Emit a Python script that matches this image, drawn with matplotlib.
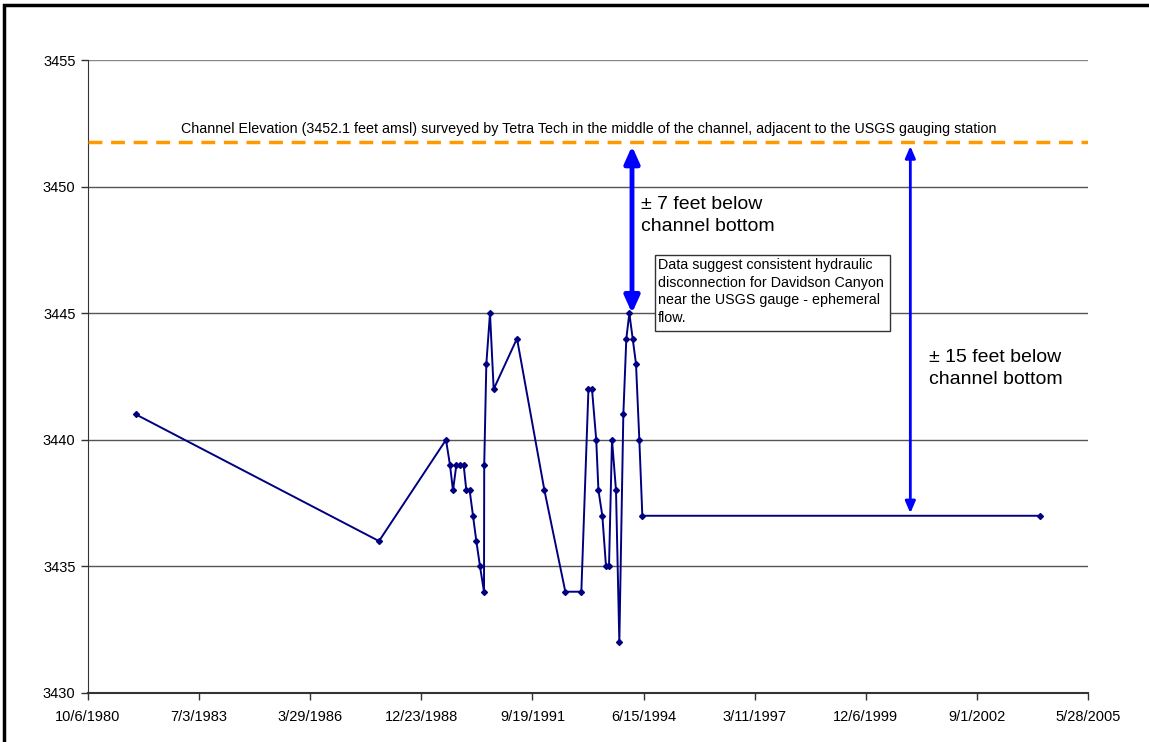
import matplotlib
matplotlib.use("Agg")
import matplotlib.pyplot as plt
from matplotlib.patches import Rectangle
import pandas as pd

dates = ["1981-12-12", "1987-12-08", "1989-08-02", "1989-09-07", "1989-10-04",
         "1989-11-03", "1989-12-06", "1990-01-08", "1990-02-01", "1990-03-03",
         "1990-04-02", "1990-05-02", "1990-06-04", "1990-07-10", "1990-07-12",
         "1990-07-31", "1990-09-02", "1990-10-05", "1991-05-03", "1992-01-05",
         "1992-07-11", "1992-12-02", "1993-02-04", "1993-03-08", "1993-04-15",
         "1993-05-05", "1993-06-09", "1993-07-12", "1993-08-08", "1993-09-04",
         "1993-10-10", "1993-11-09", "1993-12-15", "1994-01-11", "1994-02-07",
         "1994-03-09", "1994-04-08", "1994-05-08", "1994-06-04", "2004-03-22"]
elev = [3441, 3436, 3440, 3439, 3438, 3439, 3439, 3439, 3438, 3438,
        3437, 3436, 3435, 3434, 3439, 3443, 3445, 3442, 3444, 3438,
        3434, 3434, 3442, 3442, 3440, 3438, 3437, 3435, 3435, 3440,
        3438, 3432, 3441, 3444, 3445, 3444, 3443, 3440, 3437, 3437]

channel_elev = 3451.75
tick_dates = ["1980-10-06", "1983-07-03", "1986-03-29", "1988-12-23", "1991-09-19",
              "1994-06-15", "1997-03-11", "1999-12-06", "2002-09-01", "2005-05-28"]
tick_labels = ["10/6/1980", "7/3/1983", "3/29/1986", "12/23/1988", "9/19/1991",
               "6/15/1994", "3/11/1997", "12/6/1999", "9/1/2002", "5/28/2005"]
yticks = [3430, 3435, 3440, 3445, 3450, 3455]

arrow1_date = "1994-03-03"
arrow1_y = (3451.6, 3445.0)
arrow2_date = "2001-01-10"
arrow2_y = (3451.6, 3437.1)

FONT = "Liberation Sans"
W, H = 1149, 742
fig = plt.figure(figsize=(W / 100, H / 100), dpi=100)
ax = fig.add_axes([88 / W, 1 - 693 / H, 1000 / W, 633 / H])

x = pd.to_datetime(dates)
ax.plot(x, elev, color="#000080", lw=1.4, marker="D", ms=3, zorder=4)

ax.axhline(channel_elev, color="#FF9900", lw=2.5, ls=(0, (4, 2.5)), zorder=3)

td = pd.to_datetime(tick_dates)
ax.set_xlim(td[0], td[-1])
ax.set_ylim(3430, 3455)
ax.set_xticks(td)
ax.set_xticklabels(tick_labels, fontsize=10.5, family=FONT)
ax.set_yticks(yticks)
ax.set_yticklabels([str(v) for v in yticks], fontsize=10.5, family=FONT)
ax.tick_params(axis="both", direction="out", length=5, width=1, color="#333333", pad=4)
ax.tick_params(axis="x", pad=7)

for v in yticks[1:]:
    ax.axhline(v, color="#555555" if v != 3455 else "#888888", lw=1, zorder=1)

ax.spines["top"].set_visible(False)
ax.spines["right"].set_visible(False)
ax.spines["left"].set_color("#333333")
ax.spines["bottom"].set_color("#333333")
ax.spines["bottom"].set_linewidth(1.5)

a1 = pd.Timestamp(arrow1_date)
ax.annotate("", xy=(a1, arrow1_y[1]), xytext=(a1, arrow1_y[0]),
            arrowprops=dict(arrowstyle="<|-|>,head_length=1.0,head_width=0.45",
                            color="#0000FF", lw=3.5, shrinkA=0, shrinkB=0), zorder=5)
a2 = pd.Timestamp(arrow2_date)
ax.annotate("", xy=(a2, arrow2_y[1]), xytext=(a2, arrow2_y[0]),
            arrowprops=dict(arrowstyle="<|-|>,head_length=0.7,head_width=0.3",
                            color="#0000FF", lw=2, shrinkA=0, shrinkB=0), zorder=5)

fig.text(589 / W, 1 - 129 / H,
         "Channel Elevation (3452.1 feet amsl) surveyed by Tetra Tech in the middle of the channel, adjacent to the USGS gauging station",
         ha="center", va="center", fontsize=10.3, family=FONT)
fig.text(641 / W, 1 - 196 / H, "\u00b1 7 feet below\nchannel bottom",
         ha="left", va="top", fontsize=14, family=FONT, linespacing=1.4)
fig.text(929 / W, 1 - 349 / H, "\u00b1 15 feet below\nchannel bottom",
         ha="left", va="top", fontsize=14, family=FONT, linespacing=1.4)
fig.add_artist(Rectangle((655 / W, 1 - 331 / H), 235 / W, 76 / H, transform=fig.transFigure,
                         facecolor="white", edgecolor="#333333", lw=1, zorder=2))
fig.text(658 / W, 1 - 258 / H,
         "Data suggest consistent hydraulic\ndisconnection for Davidson Canyon\nnear the USGS gauge - ephemeral\nflow.",
         ha="left", va="top", fontsize=10.3, family=FONT, linespacing=1.33, zorder=3)

fig.add_artist(Rectangle((4 / W, -0.05), 1.2, 1 - 5 / H + 0.05, transform=fig.transFigure,
                         facecolor="none", edgecolor="black", lw=2.5))

fig.savefig("out.png", dpi=100)
